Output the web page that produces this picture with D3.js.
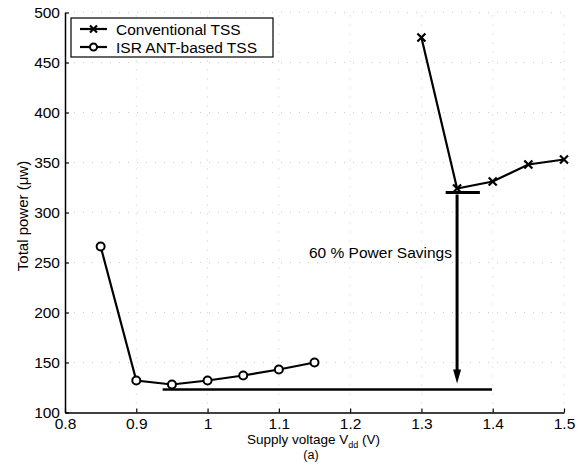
<!DOCTYPE html>
<html><head><meta charset="utf-8">
<script src="https://cdn.jsdelivr.net/npm/d3@7"></script>
<style>body{margin:0;background:#fff;} svg{display:block;}</style>
</head><body>
<script>
const convX = [1.30, 1.35, 1.40, 1.45, 1.50];
const convY = [475, 324, 331, 348, 353];
const isrX = [0.85, 0.90, 0.95, 1.00, 1.05, 1.10, 1.15];
const isrY = [266, 132, 128, 132, 137, 143, 150];
const xTicks = [0.8, 0.9, 1.0, 1.1, 1.2, 1.3, 1.4, 1.5];
const yTicks = [100, 150, 200, 250, 300, 350, 400, 450, 500];
const seriesNames = ["Conventional TSS", "ISR ANT-based TSS"];
// annotation: min conventional level, min ISR level, arrow
const convMinLine = {x0: 1.334, x1: 1.382, y: 320};
const isrMinLine = {x0: 0.937, x1: 1.399, y: 123};
const arrow = {x: 1.35, y0: 318, y1: 129};
const annotText = "60 % Power Savings";

const W = 585, H = 471;
const svg = d3.select("body").append("svg").attr("width", W).attr("height", H)
  .style("font-family", "'Liberation Sans', Arial, Helvetica, sans-serif");

const x = d3.scaleLinear().domain([0.8, 1.5]).range([65, 564]);
const y = d3.scaleLinear().domain([100, 500]).range([412.5, 12.5]);

// grid
const g = svg.append("g");
g.selectAll(".gx").data(xTicks.slice(1)).enter().append("line")
  .attr("x1", d => x(d)).attr("x2", d => x(d)).attr("y1", y(100)).attr("y2", y(500))
  .attr("stroke", "#ccc").attr("stroke-width", 1).attr("stroke-dasharray", "1,8");
g.selectAll(".gy").data(yTicks.slice(1)).enter().append("line")
  .attr("x1", x(0.8)).attr("x2", x(1.5)).attr("y1", d => y(d)).attr("y2", d => y(d))
  .attr("stroke", "#ccc").attr("stroke-width", 1).attr("stroke-dasharray", "1,8");

// axes
const xAxis = d3.axisBottom(x).tickValues(xTicks).tickSizeInner(-4).tickSizeOuter(0).tickPadding(8)
  .tickFormat(d => d3.format("~g")(d));
const yAxis = d3.axisLeft(y).tickValues(yTicks).tickSizeInner(-4).tickSizeOuter(0).tickPadding(5);
const ax = svg.append("g").attr("transform", `translate(0,${y(100)})`).call(xAxis);
const ay = svg.append("g").attr("transform", `translate(${x(0.8)},0)`).call(yAxis);
[ax, ay].forEach(a => {
  a.select(".domain").attr("stroke", "#000").attr("stroke-width", 1.5);
  a.selectAll(".tick line").attr("stroke", "#000").attr("stroke-width", 1.2);
  a.selectAll(".tick text").attr("fill", "#000").style("font-size", "15.5px").style("font-family", "'Liberation Sans', Arial, sans-serif");
});
ax.selectAll(".tick text").attr("dy", "0.55em");
ay.selectAll(".tick text").attr("dy", "0.3em");

// annotation lines
svg.append("line").attr("x1", x(convMinLine.x0)).attr("x2", x(convMinLine.x1))
  .attr("y1", y(convMinLine.y)).attr("y2", y(convMinLine.y)).attr("stroke", "#000").attr("stroke-width", 3);
svg.append("line").attr("x1", x(isrMinLine.x0)).attr("x2", x(isrMinLine.x1))
  .attr("y1", y(isrMinLine.y)).attr("y2", y(isrMinLine.y)).attr("stroke", "#000").attr("stroke-width", 2.6);
const ahLen = 14, ahW = 4;
svg.append("line").attr("x1", x(arrow.x)).attr("x2", x(arrow.x))
  .attr("y1", y(arrow.y0)).attr("y2", y(arrow.y1) - ahLen + 2).attr("stroke", "#000").attr("stroke-width", 3);
svg.append("path")
  .attr("d", `M${x(arrow.x)-ahW},${y(arrow.y1)-ahLen} L${x(arrow.x)+ahW},${y(arrow.y1)-ahLen} L${x(arrow.x)},${y(arrow.y1)} Z`)
  .attr("fill", "#000");
svg.append("text").attr("x", 452).attr("y", 258).attr("text-anchor", "end")
  .style("font-size", "15.5px").text(annotText);

// series
const line = d3.line().x(d => x(d[0])).y(d => y(d[1]));
const conv = convX.map((v, i) => [v, convY[i]]);
const isr = isrX.map((v, i) => [v, isrY[i]]);
svg.append("path").datum(conv).attr("d", line).attr("fill", "none").attr("stroke", "#000").attr("stroke-width", 2.2);
svg.append("path").datum(isr).attr("d", line).attr("fill", "none").attr("stroke", "#000").attr("stroke-width", 2.2);

function xMark(sel, cx, cy, s) {
  sel.append("path").attr("d", `M${cx-s},${cy-s}L${cx+s},${cy+s}M${cx-s},${cy+s}L${cx+s},${cy-s}`)
    .attr("stroke", "#000").attr("stroke-width", 2.2).attr("fill", "none");
}
conv.forEach(d => xMark(svg, x(d[0]), y(d[1]), 4));
svg.selectAll(".circ").data(isr).enter().append("circle")
  .attr("cx", d => x(d[0])).attr("cy", d => y(d[1])).attr("r", 4)
  .attr("fill", "#fff").attr("stroke", "#000").attr("stroke-width", 2);

// legend
const lg = svg.append("g");
lg.append("rect").attr("x", 71).attr("y", 18).attr("width", 202).attr("height", 39)
  .attr("fill", "#fff").attr("stroke", "#000").attr("stroke-width", 1.2);
[29, 47].forEach((ly, i) => {
  lg.append("line").attr("x1", 80).attr("x2", 107).attr("y1", ly).attr("y2", ly).attr("stroke", "#000").attr("stroke-width", 2.2);
  if (i === 0) xMark(lg, 93.5, ly, 3.5);
  else lg.append("circle").attr("cx", 93.5).attr("cy", ly).attr("r", 3.5).attr("fill", "#fff").attr("stroke", "#000").attr("stroke-width", 2);
  lg.append("text").attr("x", 116).attr("y", ly + 5.5).style("font-size", "15.5px").text(seriesNames[i]);
});

// axis labels
svg.append("text").attr("transform", "translate(28,216) rotate(-90)").attr("text-anchor", "middle")
  .style("font-size", "15px").text("Total power (μw)");
const xl = svg.append("text").attr("x", 247).attr("y", 444).style("font-size", "13.5px");
xl.append("tspan").text("Supply voltage V");
xl.append("tspan").attr("dy", 4).style("font-size", "9px").text("dd");
xl.append("tspan").attr("dy", -4).text(" (V)");
svg.append("text").attr("x", 311).attr("y", 459).attr("text-anchor", "middle").style("font-size", "12.5px").text("(a)");
</script>
</body></html>
